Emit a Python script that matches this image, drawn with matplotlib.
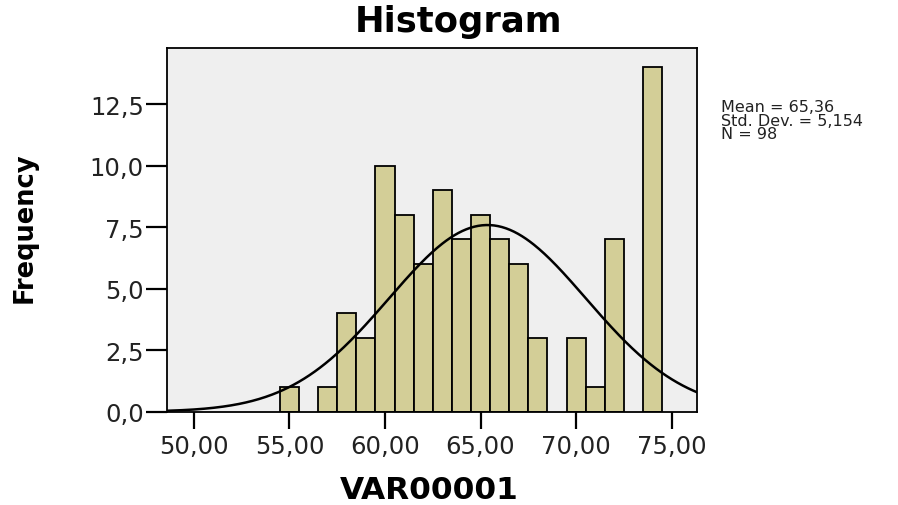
import numpy as np
import matplotlib
matplotlib.use("Agg")
import matplotlib.pyplot as plt
from matplotlib.ticker import FuncFormatter

# histogram data (bin centres, bin width 1)
bin_centers = [55, 57, 58, 59, 60, 61, 62, 63, 64, 65, 66, 67, 68, 70, 71, 72, 74]
counts = [1, 1, 4, 3, 10, 8, 6, 9, 7, 8, 7, 6, 3, 3, 1, 7, 14]

mean = 65.36
std_dev = 5.154
n_obs = 98

x_ticks = [50, 55, 60, 65, 70, 75]
y_ticks = [0, 2.5, 5, 7.5, 10, 12.5]

plt.rcParams["font.family"] = ["DejaVu Sans"]

W, H = 898, 506
fig = plt.figure(figsize=(W / 100, H / 100), dpi=100)
ax = fig.add_axes([167.3 / W, 1 - 412.7 / H, 530 / W, (412.7 - 49) / H])
ax.set_facecolor("#efefef")

ax.bar(bin_centers, counts, width=1.0, color="#d3ce97", edgecolor="black",
       linewidth=1.3, zorder=2)

xlim = (48.61, 76.34)
xs = np.linspace(xlim[0], xlim[1], 400)
curve = n_obs * np.exp(-0.5 * ((xs - mean) / std_dev) ** 2) / (std_dev * np.sqrt(2 * np.pi))
ax.plot(xs, curve, color="black", linewidth=1.8, zorder=3)

ax.set_xlim(*xlim)
ax.set_ylim(0, 14.78)
ax.set_xticks(x_ticks)
ax.set_yticks(y_ticks)
ax.xaxis.set_major_formatter(FuncFormatter(lambda v, p: f"{v:.2f}".replace(".", ",")))
ax.yaxis.set_major_formatter(FuncFormatter(lambda v, p: f"{v:.1f}".replace(".", ",")))
ax.tick_params(axis="x", length=12, width=1.6, pad=4, labelsize=17.5, colors="black",
               labelcolor="#222222")
ax.tick_params(axis="y", length=15, width=1.6, pad=2, labelsize=17.5, colors="black",
               labelcolor="#222222")
for s in ax.spines.values():
    s.set_linewidth(1.3)
    s.set_color("black")

fig.text(458 / W, 1 - 22 / H, "Histogram", ha="center", va="center",
         fontsize=25.5, fontweight="bold")
fig.text(429 / W, 1 - 491 / H, "VAR00001", ha="center", va="center",
         fontsize=22.5, fontweight="bold")
fig.text(25 / W, 1 - 228 / H, "Frequency", ha="center", va="center",
         fontsize=18.5, fontweight="bold", rotation=90)

stats = f"Mean = {mean:.2f}\nStd. Dev. = {std_dev:.3f}\nN = {n_obs}".replace(".", ",")
stats = stats.replace("Std, Dev,", "Std. Dev.")
fig.text(721 / W, 1 - 100 / H, stats, ha="left", va="top", fontsize=11.5,
         linespacing=0.88, color="#222222")

fig.savefig("out.png", dpi=100)
